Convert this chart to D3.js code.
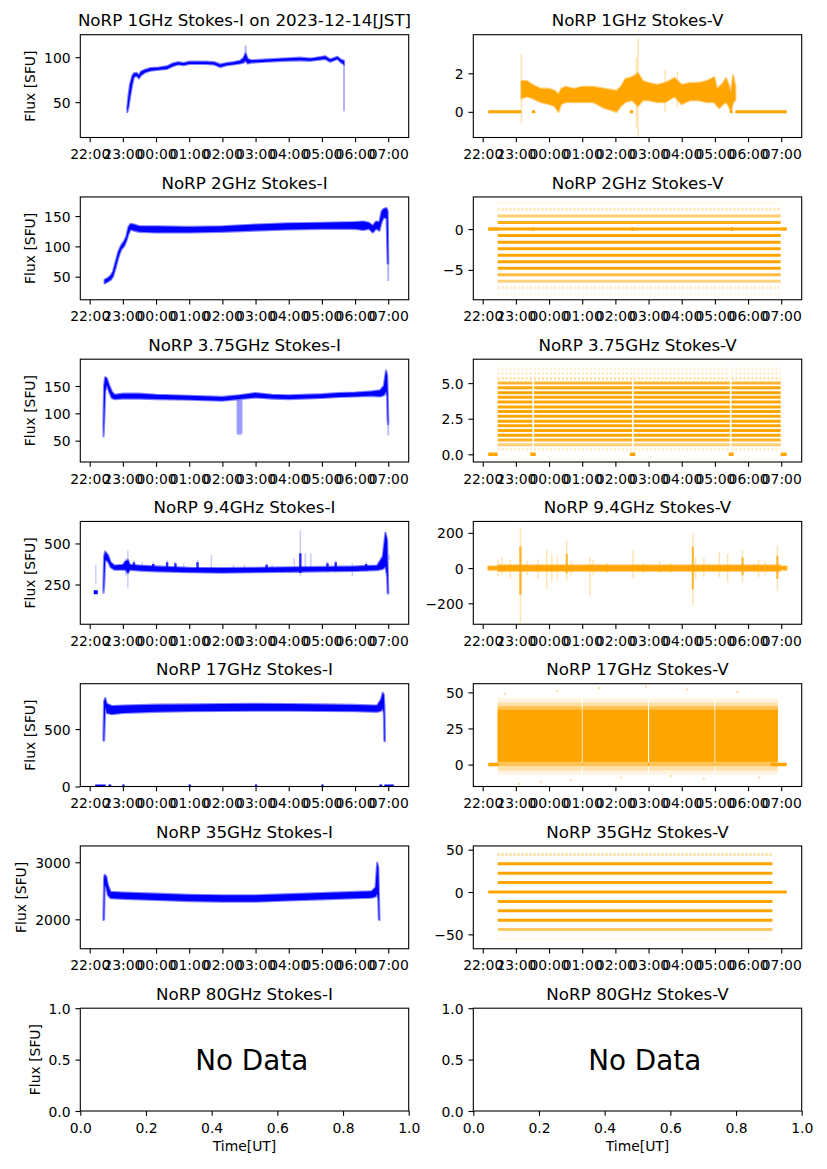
<!DOCTYPE html>
<html>
<head>
<meta charset="utf-8">
<script src="https://cdn.jsdelivr.net/npm/d3@7"></script>
<style>
  body { margin: 0; background: #fff; }
  text { font-family: "DejaVu Sans", sans-serif; }
</style>
</head>
<body>
<svg id="fig" width="827" height="1169"></svg>
<script>
// Times are UT. Hours >= 12 are on Dec 13, the rest on Dec 14.
function T(s) {
  var p = s.split(':').map(Number);
  return new Date(Date.UTC(2023, 11, p[0] >= 12 ? 13 : 14, p[0], p[1]));
}

const titles = [
  'NoRP 1GHz Stokes-I on 2023-12-14[JST]', 'NoRP 1GHz Stokes-V',
  'NoRP 2GHz Stokes-I', 'NoRP 2GHz Stokes-V',
  'NoRP 3.75GHz Stokes-I', 'NoRP 3.75GHz Stokes-V',
  'NoRP 9.4GHz Stokes-I', 'NoRP 9.4GHz Stokes-V',
  'NoRP 17GHz Stokes-I', 'NoRP 17GHz Stokes-V',
  'NoRP 35GHz Stokes-I', 'NoRP 35GHz Stokes-V',
  'NoRP 80GHz Stokes-I', 'NoRP 80GHz Stokes-V'
];
const timeRange = ['21:43', '07:37'];
const unitTicks = [0, 0.2, 0.4, 0.6, 0.8, 1.0];

// ---- Stokes-I, [time, low, high] of the dense band ----
const band1I = [
  ['23:08', 39, 44], ['23:10', 44, 56], ['23:13', 56, 70], ['23:17', 70, 79], ['23:20', 78, 82],
  ['23:25', 79, 82.5], ['23:29', 76.5, 80], ['23:33', 80, 84], ['23:40', 83, 86], ['23:50', 85, 88],
  ['00:05', 86, 88.5], ['00:20', 87, 90], ['00:30', 90, 93], ['00:40', 92, 94.5], ['00:50', 91, 93.5],
  ['01:00', 92.5, 95], ['01:30', 92.5, 95], ['01:45', 92, 94.5], ['01:56', 89, 92], ['02:08', 91, 93.5],
  ['02:20', 92, 94.5], ['02:32', 93, 96], ['02:38', 94, 99], ['02:42', 96, 104], ['02:46', 93, 98],
  ['02:52', 94, 96.5], ['03:20', 95, 97.5], ['03:50', 96, 98.5], ['04:20', 96.5, 99.5], ['04:40', 96, 98.5],
  ['05:06', 98, 101], ['05:15', 95, 97.5], ['05:28', 98, 100.5], ['05:35', 94, 97], ['05:40', 92, 96]
];
const faint1I = [['02:42', 100, 113], ['05:40', 40, 93]];

const band2I = [
  ['22:27', 39, 45], ['22:33', 42, 48], ['22:38', 45, 52], ['22:42', 50, 58], ['22:47', 65, 75],
  ['22:52', 82, 92], ['22:57', 95, 102], ['23:02', 100, 108], ['23:06', 108, 116], ['23:10', 120, 132],
  ['23:14', 128, 137], ['23:20', 126, 136], ['23:30', 124, 133], ['00:00', 123, 133], ['01:00', 123, 132],
  ['02:00', 124, 133], ['03:00', 126, 136], ['04:00', 128, 138], ['05:00', 129, 139], ['06:00', 129, 140],
  ['06:15', 127, 141], ['06:25', 129, 139], ['06:32', 123, 134], ['06:38', 129, 141], ['06:44', 126, 140],
  ['06:48', 140, 158], ['06:52', 148, 162], ['06:57', 146, 163], ['06:59', 72, 158], ['07:00', 72, 80]
];
const faint2I = [['07:00', 43, 72]];

const band3I = [
  ['22:25', 58, 82], ['22:26', 80, 150], ['22:28', 140, 166], ['22:31', 152, 164], ['22:35', 140, 152],
  ['22:40', 128, 140], ['22:45', 126, 134], ['23:00', 127, 136], ['23:30', 127, 136], ['00:00', 126, 134],
  ['01:00', 125, 132], ['02:00', 123, 130], ['02:30', 126, 133], ['03:00', 129, 137], ['03:30', 127, 134],
  ['04:00', 126, 133], ['05:00', 128, 135], ['05:30', 130, 137], ['06:00', 131, 138], ['06:30', 132, 140],
  ['06:45', 131, 142], ['06:52', 133, 150], ['06:56', 140, 178], ['06:58', 130, 170], ['06:59', 85, 135],
  ['07:00', 80, 88]
];
const faint3I = [['02:27', 62, 125], ['02:29', 60, 125], ['02:31', 62, 125], ['02:33', 60, 125], ['02:35', 63, 125], ['07:00', 60, 80]];

const band9I = [
  ['22:25', 200, 250], ['22:26', 240, 420], ['22:28', 400, 450], ['22:33', 390, 430], ['22:38', 355, 385],
  ['22:45', 340, 365], ['23:00', 340, 370], ['23:05', 340, 390], ['23:09', 320, 400], ['23:13', 340, 370],
  ['23:30', 335, 365], ['00:00', 330, 360], ['01:00', 325, 352], ['02:00', 322, 350], ['03:00', 325, 352],
  ['04:00', 327, 355], ['05:00', 330, 357], ['06:00', 333, 360], ['06:40', 338, 365], ['06:50', 345, 420],
  ['06:55', 360, 565], ['06:58', 300, 520], ['06:59', 200, 360], ['07:00', 195, 210]
];
const faint9I = [
  ['22:11', 255, 370], ['23:05', 300, 410], ['23:09', 230, 455], ['23:20', 330, 400], ['23:35', 330, 390],
  ['23:55', 330, 390], ['00:20', 330, 400], ['00:35', 330, 390], ['00:50', 320, 380], ['01:15', 330, 400],
  ['01:40', 330, 430], ['02:20', 330, 370], ['02:40', 330, 370], ['03:20', 330, 380], ['03:30', 330, 370],
  ['04:10', 330, 410], ['04:21', 300, 580], ['04:30', 330, 440], ['04:40', 330, 440], ['05:10', 330, 390],
  ['05:25', 330, 400], ['05:55', 300, 380], ['06:20', 330, 390], ['07:02', 400, 430]
];
const bumps9I = [
  ['23:05', 340, 390], ['23:20', 340, 385], ['23:55', 335, 375], ['00:20', 335, 385], ['00:35', 335, 380],
  ['01:15', 330, 385], ['03:20', 330, 370], ['04:21', 320, 440], ['05:10', 330, 380], ['05:25', 330, 385],
  ['06:20', 335, 375]
];
const dots9I = [['22:11', 203]];

const band17I = [
  ['22:25', 400, 420], ['22:26', 400, 740], ['22:28', 690, 770], ['22:31', 640, 720], ['22:40', 630, 700],
  ['23:00', 640, 705], ['00:00', 650, 712], ['01:00', 655, 715], ['02:00', 658, 718], ['03:00', 660, 720],
  ['04:00', 660, 718], ['05:00', 658, 715], ['06:00', 655, 710], ['06:40', 650, 705], ['06:47', 660, 760],
  ['06:50', 680, 815], ['06:52', 640, 800], ['06:53', 400, 700], ['06:54', 395, 420]
];
const zero17I = [
  ['22:10', '22:29'], ['22:34', '22:39'], ['22:59', '23:03'], ['00:59', '01:03'], ['02:59', '03:03'],
  ['04:59', '05:03'], ['06:44', '06:49'], ['06:53', '07:10']
];

const band35I = [
  ['22:25', 1990, 2050], ['22:26', 2000, 2700], ['22:27', 2600, 2780], ['22:30', 2550, 2750], ['22:33', 2420, 2600],
  ['22:38', 2370, 2480], ['23:00', 2360, 2470], ['00:00', 2340, 2450], ['01:00', 2320, 2430], ['02:00', 2310, 2420],
  ['03:00', 2310, 2420], ['04:00', 2330, 2440], ['05:00', 2350, 2460], ['06:00', 2370, 2480], ['06:30', 2380, 2490],
  ['06:37', 2400, 2560], ['06:40', 2450, 2990], ['06:42', 2350, 2900], ['06:43', 2000, 2500], ['06:44', 1990, 2050]
];

// ---- Stokes-V ----
const band1V = [
  ['23:10', 0.7, 1.6], ['23:20', 0.8, 1.6], ['23:30', 0.7, 1.4], ['23:45', 0.5, 1.2], ['00:00', 0.4, 1.2],
  ['00:10', 0.3, 1.1], ['00:17', 0.0, 0.9], ['00:22', 0.4, 1.2], ['00:30', 0.5, 1.3], ['00:45', 0.5, 1.2],
  ['01:00', 0.5, 1.3], ['01:20', 0.5, 1.3], ['01:40', 0.2, 1.2], ['02:02', 0.0, 1.1], ['02:10', 0.3, 1.3],
  ['02:18', 0.5, 1.7], ['02:30', 0.6, 1.8], ['02:41', 0.3, 2.0], ['02:50', 0.6, 1.6], ['03:00', 0.6, 1.5],
  ['03:15', 0.5, 1.4], ['03:30', 0.5, 1.5], ['03:47', 0.8, 1.75], ['04:00', 0.4, 1.4], ['04:15', 0.6, 1.5],
  ['04:30', 0.6, 1.5], ['04:45', 0.5, 1.6], ['04:59', 0.5, 1.8], ['05:04', 0.3, 1.2], ['05:08', 0.2, 1.3],
  ['05:15', 0.4, 1.5], ['05:20', 0.5, 1.75], ['05:25', 0.3, 1.4], ['05:29', 0.0, 1.0], ['05:33', 0.5, 1.9],
  ['05:37', 0.6, 1.3]
];
const faint1V = [['23:10', -0.6, 3.0], ['02:38', -0.8, 2.8], ['02:41', -1.3, 3.8], ['03:30', 0.0, 2.2], ['03:52', 0.2, 2.1]];
const zero1V = [['22:10', '23:10'], ['23:29', '23:35'], ['02:26', '02:32'], ['05:27', '05:32'], ['05:37', '07:10']];

const levels2V = [3.2, 2.4, 1.6, 0.8, 0, -0.8, -1.6, -2.4, -3.2, -4.0, -4.8, -5.6, -6.4, -7.2, -8.0];
const share2V = [0.12, 0.3, 0.55, 0.9, 1, 1, 1, 1, 1, 1, 1, 0.75, 0.5, 0.25, 0.08];
const span2V = [['22:27', '06:59']];
const zero2V = [['22:10', '22:28'], ['23:29', '23:33'], ['02:29', '02:33'], ['05:29', '05:33'], ['06:59', '07:10']];

const levels3V = [-0.33, 0.33, 0.67, 1.0, 1.33, 1.67, 2.0, 2.33, 2.67, 3.0, 3.33, 3.67, 4.0, 4.33, 4.67, 5.0, 5.33, 5.67, 6.0, 6.33];
const share3V = [0.08, 0.2, 0.55, 0.85, 1, 1, 1, 1, 1, 1, 1, 1, 1, 1, 1, 0.8, 0.35, 0.2, 0.12, 0.05];
const span3V = [['22:27', '23:30'], ['23:33', '02:30'], ['02:33', '05:27'], ['05:30', '06:59']];
const zero3V = [['22:10', '22:27'], ['23:26', '23:36'], ['02:26', '02:36'], ['05:25', '05:34'], ['06:59', '07:10']];

const band9V = [['22:10', -10, 10], ['22:27', -10, 10], ['22:28', -16, 16], ['06:58', -16, 16], ['06:59', -10, 10], ['07:10', -10, 10]];
const dense9V = [['23:08', -150, 120], ['00:32', -30, 80], ['04:20', -120, 120], ['06:53', -60, 70], ['05:50', -40, 60]];
const faint9V = [
  ['22:28', -45, 45], ['22:35', -40, 60], ['22:50', -60, 50], ['23:08', -310, 230], ['23:10', -150, 130],
  ['23:20', -40, 40], ['23:40', -60, 50], ['23:56', -120, 100], ['00:05', -80, 80], ['00:15', -70, 70],
  ['00:32', -70, 160], ['00:40', -40, 40], ['01:14', -160, 60], ['01:20', -40, 50], ['01:45', -30, 30],
  ['02:32', -60, 100], ['02:50', -30, 30], ['03:20', -30, 40], ['03:40', -30, 30], ['04:20', -210, 200],
  ['04:25', -60, 60], ['04:40', -50, 60], ['05:08', -50, 90], ['05:23', -80, 80], ['05:50', -80, 100],
  ['06:19', -50, 50], ['06:31', -40, 40], ['06:53', -130, 130]
];

// 17 GHz V: nested bands [low, high, share of points]
const span17V = [['22:27', '00:59'], ['01:01', '02:59'], ['03:01', '04:59'], ['05:01', '06:54']];
const layers17V = [[-7, 46, 0.12], [-4, 43, 0.25], [-1, 40.5, 0.5], [2, 38, 1]];
const zero17V = [['22:10', '22:28'], ['00:59', '01:01'], ['02:59', '03:01'], ['04:59', '05:01'], ['06:41', '07:10']];
const out17V = [
  ['22:40', 49], ['23:06', -13.5], ['23:45', -12], ['00:15', 51], ['00:40', -11], ['01:30', 53],
  ['02:10', -9], ['02:55', 54], ['03:40', -8], ['04:10', 52], ['04:40', -10], ['05:40', 50], ['06:20', -9]
];

const levels35V = [44.4, 33.3, 22.2, 11.1, -11.1, -22.2, -33.3, -44.4, -55.5];
const share35V = [0.4, 1, 1, 1, 1, 1, 1, 0.6, 0.12];
const span35V = [['22:27', '06:44']];
const zero35V = [['22:10', '07:10']];

// ---- layout ----
const BLUE = '#0000ff', ORANGE = '#ffa500';
const colX = [80.3, 473.3], axW = 328.4, axH = 102.8;
const rowTop = r => 34.7 + r * 162.25;
const FS = 13.9;

const svg = d3.select('#fig');
svg.append('rect').attr('width', 827).attr('height', 1169).attr('fill', '#fff');

function drawBand(g, x, y, band, color) {
  g.append('path').datum(band)
    .attr('d', d3.area().x(d => x(T(d[0]))).y0(d => y(d[1])).y1(d => y(d[2])))
    .attr('fill', color).attr('stroke', color).attr('stroke-width', 2.2)
    .attr('stroke-opacity', 0.5).attr('stroke-linejoin', 'round');
}
function drawSpikes(g, x, y, spikes, color, op, w) {
  g.selectAll(null).data(spikes).join('line')
    .attr('x1', d => x(T(d[0]))).attr('x2', d => x(T(d[0])))
    .attr('y1', d => y(d[1])).attr('y2', d => y(d[2]))
    .attr('stroke', color).attr('stroke-opacity', op).attr('stroke-width', w);
}
function drawRuns(g, x, y, runs, level, color, op, w, dash) {
  g.selectAll(null).data(runs).join('line')
    .attr('x1', d => x(T(d[0]))).attr('x2', d => x(T(d[1])))
    .attr('y1', y(level)).attr('y2', y(level))
    .attr('stroke', color).attr('stroke-opacity', op).attr('stroke-width', w)
    .attr('stroke-dasharray', dash || null);
}
function drawLevels(g, x, y, levels, share, spans) {
  levels.forEach((lv, i) => {
    drawRuns(g, x, y, spans, lv, ORANGE, share[i], 3, share[i] < 0.5 ? '2 2' : null);
  });
}

const panels = [
  { y: [10.7, 125], yt: [50, 100], draw: (g, x, y) => {
      drawSpikes(g, x, y, faint1I, BLUE, 0.3, 2);
      drawBand(g, x, y, band1I, BLUE);
  } },
  { y: [-1.33, 4.0], yt: [0, 2], draw: (g, x, y) => {
      drawRuns(g, x, y, zero1V, 0, ORANGE, 1, 3);
      drawSpikes(g, x, y, faint1V, ORANGE, 0.3, 1.5);
      drawBand(g, x, y, band1V, ORANGE);
  } },
  { y: [12, 181.5], yt: [50, 100, 150], draw: (g, x, y) => {
      drawSpikes(g, x, y, faint2I, BLUE, 0.3, 2);
      drawBand(g, x, y, band2I, BLUE);
  } },
  { y: [-8.66, 3.94], yt: [-5, 0], draw: (g, x, y) => {
      drawRuns(g, x, y, zero2V, 0, ORANGE, 1, 3.5);
      drawLevels(g, x, y, levels2V, share2V, span2V);
  } },
  { y: [11, 199], yt: [50, 100, 150], draw: (g, x, y) => {
      drawSpikes(g, x, y, faint3I, BLUE, 0.25, 2);
      drawBand(g, x, y, band3I, BLUE);
  } },
  { y: [-0.54, 6.68], yt: [0, 2.5, 5], fmt: '.1f', draw: (g, x, y) => {
      drawRuns(g, x, y, zero3V, 0, ORANGE, 1, 3.5);
      drawLevels(g, x, y, levels3V, share3V, span3V);
  } },
  { y: [8, 634], yt: [250, 500], draw: (g, x, y) => {
      drawSpikes(g, x, y, faint9I, BLUE, 0.2, 1.5);
      drawSpikes(g, x, y, bumps9I, BLUE, 0.8, 2.5);
      drawBand(g, x, y, band9I, BLUE);
      g.selectAll(null).data(dots9I).join('rect')
        .attr('x', d => x(T(d[0])) - 2).attr('y', d => y(d[1]) - 2)
        .attr('width', 4).attr('height', 4).attr('fill', BLUE);
  } },
  { y: [-319, 265], yt: [-200, 0, 200], draw: (g, x, y) => {
      drawSpikes(g, x, y, faint9V, ORANGE, 0.3, 1.5);
      drawSpikes(g, x, y, dense9V, ORANGE, 0.8, 2);
      drawBand(g, x, y, band9V, ORANGE);
  } },
  { y: [0, 895], yt: [0, 500], draw: (g, x, y) => {
      drawRuns(g, x, y, zero17I, 0, BLUE, 1, 4);
      drawBand(g, x, y, band17I, BLUE);
  } },
  { y: [-15.2, 56], yt: [0, 25, 50], draw: (g, x, y) => {
      drawRuns(g, x, y, zero17V, 0, ORANGE, 1, 3.5);
      span17V.forEach(s => {
        layers17V.forEach(l => {
          g.append('rect').attr('x', x(T(s[0]))).attr('width', x(T(s[1])) - x(T(s[0])))
            .attr('y', y(l[1])).attr('height', y(l[0]) - y(l[1]))
            .attr('fill', ORANGE).attr('opacity', l[2]);
        });
      });
      g.selectAll(null).data(out17V).join('circle')
        .attr('cx', d => x(T(d[0]))).attr('cy', d => y(d[1])).attr('r', 1)
        .attr('fill', ORANGE).attr('opacity', 0.5);
  } },
  { y: [1484, 3286], yt: [2000, 3000], draw: (g, x, y) => {
      drawBand(g, x, y, band35I, BLUE);
  } },
  { y: [-67, 54.4], yt: [-50, 0, 50], draw: (g, x, y) => {
      drawRuns(g, x, y, zero35V, 0, ORANGE, 1, 3);
      drawLevels(g, x, y, levels35V, share35V, span35V);
  } },
  { y: [0, 1], yt: [0, 0.5, 1], fmt: '.1f', noData: true },
  { y: [0, 1], yt: [0, 0.5, 1], fmt: '.1f', noData: true }
];

panels.forEach(function(p, k) {
  var row = Math.floor(k / 2), col = k % 2;
  var g = svg.append('g').attr('transform', 'translate(' + colX[col] + ',' + rowTop(row) + ')');
  var x = p.noData
    ? d3.scaleLinear([0, 1], [0, axW])
    : d3.scaleUtc([T(timeRange[0]), T(timeRange[1])], [0, axW]);
  var y = d3.scaleLinear(p.y, [axH, 0]);

  g.append('clipPath').attr('id', 'clip' + k)
    .append('rect').attr('width', axW).attr('height', axH);
  var plot = g.append('g').attr('clip-path', 'url(#clip' + k + ')');
  if (p.draw) p.draw(plot, x, y);

  var xAxis = p.noData
    ? d3.axisBottom(x).tickValues(unitTicks).tickFormat(d3.format('.1f'))
    : d3.axisBottom(x).ticks(d3.utcHour.every(1)).tickFormat(d3.utcFormat('%H:%M'));
  xAxis.tickSize(4.86).tickPadding(4.86).tickSizeOuter(0);
  var xg = g.append('g').attr('transform', 'translate(0,' + axH + ')').call(xAxis);
  var yAxis = d3.axisLeft(y).tickValues(p.yt).tickFormat(d3.format(p.fmt || 'd'))
    .tickSize(4.86).tickPadding(4.86).tickSizeOuter(0);
  var yg = g.append('g').call(yAxis);

  [xg, yg].forEach(function(a) {
    a.attr('font-size', FS).attr('font-family', '"DejaVu Sans", sans-serif');
    a.select('.domain').remove();
    a.selectAll('.tick line').attr('stroke-width', 1.1);
    a.selectAll('.tick text').attr('fill', '#000');
  });
  xg.selectAll('.tick text').attr('dy', '0.85em');
  yg.selectAll('.tick text').attr('dy', '0.36em');

  g.append('rect').attr('width', axW).attr('height', axH)
    .attr('fill', 'none').attr('stroke', '#000').attr('stroke-width', 1.1);

  g.append('text').attr('x', axW / 2).attr('y', -8.3)
    .attr('text-anchor', 'middle').attr('font-size', 16.7).text(titles[k]);

  if (col === 0) {
    var maxW = d3.max(yg.selectAll('.tick text').nodes(), n => n.getComputedTextLength());
    var bx = -9.72 - maxW - 5.56 - 3.3;
    g.append('text').attr('transform', 'translate(' + bx + ',' + (axH / 2) + ') rotate(-90)')
      .attr('text-anchor', 'middle').attr('font-size', FS).text('Flux [SFU]');
  }

  if (p.noData) {
    g.append('text').attr('x', x(0.35)).attr('y', y(0.4))
      .attr('font-size', 27.8).text('No Data');
    g.append('text').attr('x', axW / 2).attr('y', axH + 40)
      .attr('text-anchor', 'middle').attr('font-size', FS).text('Time[UT]');
  }
});
</script>
</body>
</html>
